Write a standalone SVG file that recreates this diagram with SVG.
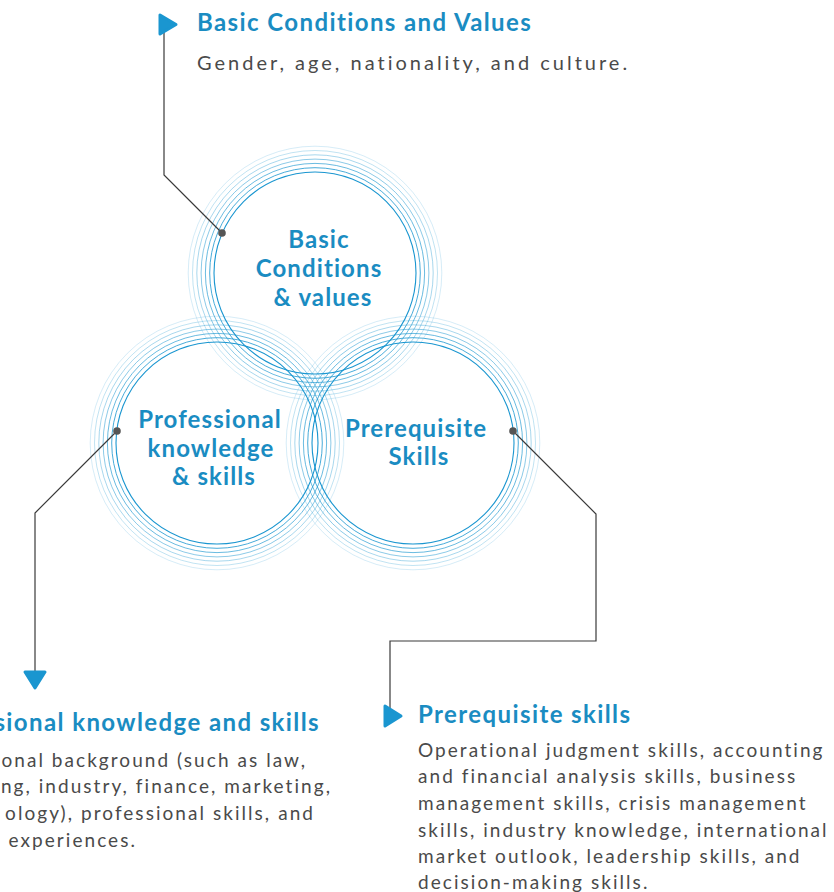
<svg xmlns="http://www.w3.org/2000/svg" width="834" height="892" viewBox="0 0 834 892">
<defs>
<style>
.bg{fill:#ffffff}
.r0{fill:none;stroke:#1a96d0;stroke-width:1.1}
.r1{fill:none;stroke:#1a96d0;stroke-width:1;opacity:.8}
.r2{fill:none;stroke:#1a96d0;stroke-width:1;opacity:.65}
.r3{fill:none;stroke:#1a96d0;stroke-width:1;opacity:.5}
.r4{fill:none;stroke:#1a96d0;stroke-width:1;opacity:.38}
.r5{fill:none;stroke:#1a96d0;stroke-width:1;opacity:.27}
.r6{fill:none;stroke:#1a96d0;stroke-width:1;opacity:.18}
.lbl{font-family:Lato,"Liberation Sans",sans-serif;font-weight:700;font-size:24px;fill:#1a8cc2;text-anchor:middle;letter-spacing:1.1px}
.head{font-family:Lato,"Liberation Sans",sans-serif;font-weight:700;font-size:24px;fill:#1a8cc2;letter-spacing:1.4px}
.body{font-family:Lato,"Liberation Sans",sans-serif;font-size:19px;fill:#4a4a4a;letter-spacing:2.05px}
.body2{font-family:Lato,"Liberation Sans",sans-serif;font-size:20px;fill:#4a4a4a;letter-spacing:3px}
.conn{fill:none;stroke:#3a3a3a;stroke-width:1.2}
.dot{fill:#555555}
.tri{fill:#1a96d0;stroke:#1a96d0;stroke-width:3;stroke-linejoin:round}
</style>
<g id="rings">
<circle class="r0" cx="0" cy="0" r="101"/>
<circle class="r1" cx="0" cy="0" r="105.3"/>
<circle class="r2" cx="0" cy="0" r="109.6"/>
<circle class="r3" cx="0" cy="0" r="113.9"/>
<circle class="r4" cx="0" cy="0" r="118.2"/>
<circle class="r5" cx="0" cy="0" r="122.5"/>
<circle class="r6" cx="0" cy="0" r="126.8"/>
</g>
</defs>
<rect class="bg" x="0" y="0" width="834" height="892"/>

<g id="circle-basic">
<use href="#rings" x="315" y="273"/>
<text class="lbl" x="319" y="248">Basic</text>
<text class="lbl" x="319" y="277">Conditions</text>
<text class="lbl" x="323" y="306">&amp; values</text>
</g>

<g id="circle-professional">
<use href="#rings" x="217" y="443"/>
<text class="lbl" x="210" y="428">Professional</text>
<text class="lbl" x="211" y="457">knowledge</text>
<text class="lbl" x="214" y="485">&amp; skills</text>
</g>

<g id="circle-prerequisite">
<use href="#rings" x="413" y="443"/>
<text class="lbl" x="416" y="437">Prerequisite</text>
<text class="lbl" x="419" y="465">Skills</text>
</g>

<g id="connectors">
<polyline class="conn" points="222,233 164,175 164,30"/>
<polyline class="conn" points="117,431 35,513 35,672"/>
<polyline class="conn" points="513,431 596,514 596,641 390,641 390,708"/>
<circle class="dot" cx="222" cy="233" r="3.8"/>
<circle class="dot" cx="117" cy="431" r="3.8"/>
<circle class="dot" cx="513" cy="431" r="3.8"/>
<path class="tri" d="M160,15 L160,34 L176,24.5 Z"/>
<path class="tri" d="M25,672 L45,672 L35,688 Z"/>
<path class="tri" d="M385,706 L385,726 L401,716 Z"/>
</g>

<g id="note-basic">
<text class="head" x="197" y="31">Basic Conditions and Values</text>
<text class="body2" x="197" y="70">Gender, age, nationality, and culture.</text>
</g>

<g id="note-professional">
<text class="head" x="320" y="731" text-anchor="end">sional knowledge and skills</text>
<text class="body" x="307" y="767" text-anchor="end">onal background (such as law,</text>
<text class="body" x="332" y="793" text-anchor="end">ng, industry, finance, marketing,</text>
<text class="body" x="315" y="820" text-anchor="end">ology), professional skills, and</text>
<text class="body" x="137" y="847" text-anchor="end">experiences.</text>
</g>

<g id="note-prerequisite">
<text class="head" x="418" y="723">Prerequisite skills</text>
<text class="body" x="418" y="757">Operational judgment skills, accounting</text>
<text class="body" x="418" y="783">and financial analysis skills, business</text>
<text class="body" x="418" y="810">management skills, crisis management</text>
<text class="body" x="418" y="837">skills, industry knowledge, international</text>
<text class="body" x="418" y="863">market outlook, leadership skills, and</text>
<text class="body" x="418" y="889">decision-making skills.</text>
</g>
</svg>
